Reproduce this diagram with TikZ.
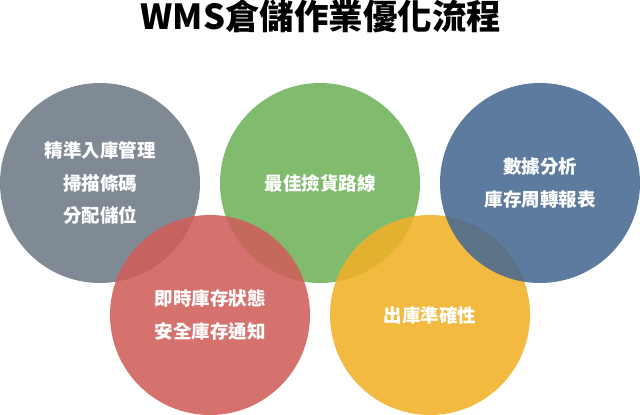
\documentclass[tikz,border=0pt]{standalone}
\usepackage{fontspec}
\setmainfont{Noto Sans CJK TC}

\definecolor{bubblegray}{RGB}{110,122,134}
\definecolor{bubblegreen}{RGB}{110,178,90}
\definecolor{bubblered}{RGB}{208,95,90}
\definecolor{bubbleyellow}{RGB}{241,176,40}
\definecolor{bubbleblue}{RGB}{70,105,145}

\tikzset{
	bubble/.style={circle,minimum size=200pt,inner sep=0pt,fill opacity=0.88,
		text opacity=1,text=white,align=center,
		font=\fontsize{18.5}{32.5}\selectfont\bfseries},
}

\begin{document}
\begin{tikzpicture}[x=1pt,y=-1pt]
		\useasboundingbox (0,0) rectangle (640,415);

		\node[font=\fontsize{34.5}{34.5}\selectfont\bfseries] (title) at (321,16) {WMS倉儲作業優化流程};

		\node[bubble,fill=bubblegray] (inbound) at (100,183) {精準入庫管理\\掃描條碼\\分配儲位};
		\node[bubble,fill=bubblegreen] (picking) at (320,183) {最佳撿貨路線};
		\node[bubble,fill=bubblered] (stock) at (210,315) {即時庫存狀態\\安全庫存通知};
		\node[bubble,fill=bubbleyellow] (outbound) at (430,315) {出庫準確性};
		\node[bubble,fill=bubbleblue] (report) at (540,183) {數據分析\\庫存周轉報表};
	\end{tikzpicture}
\end{document}
